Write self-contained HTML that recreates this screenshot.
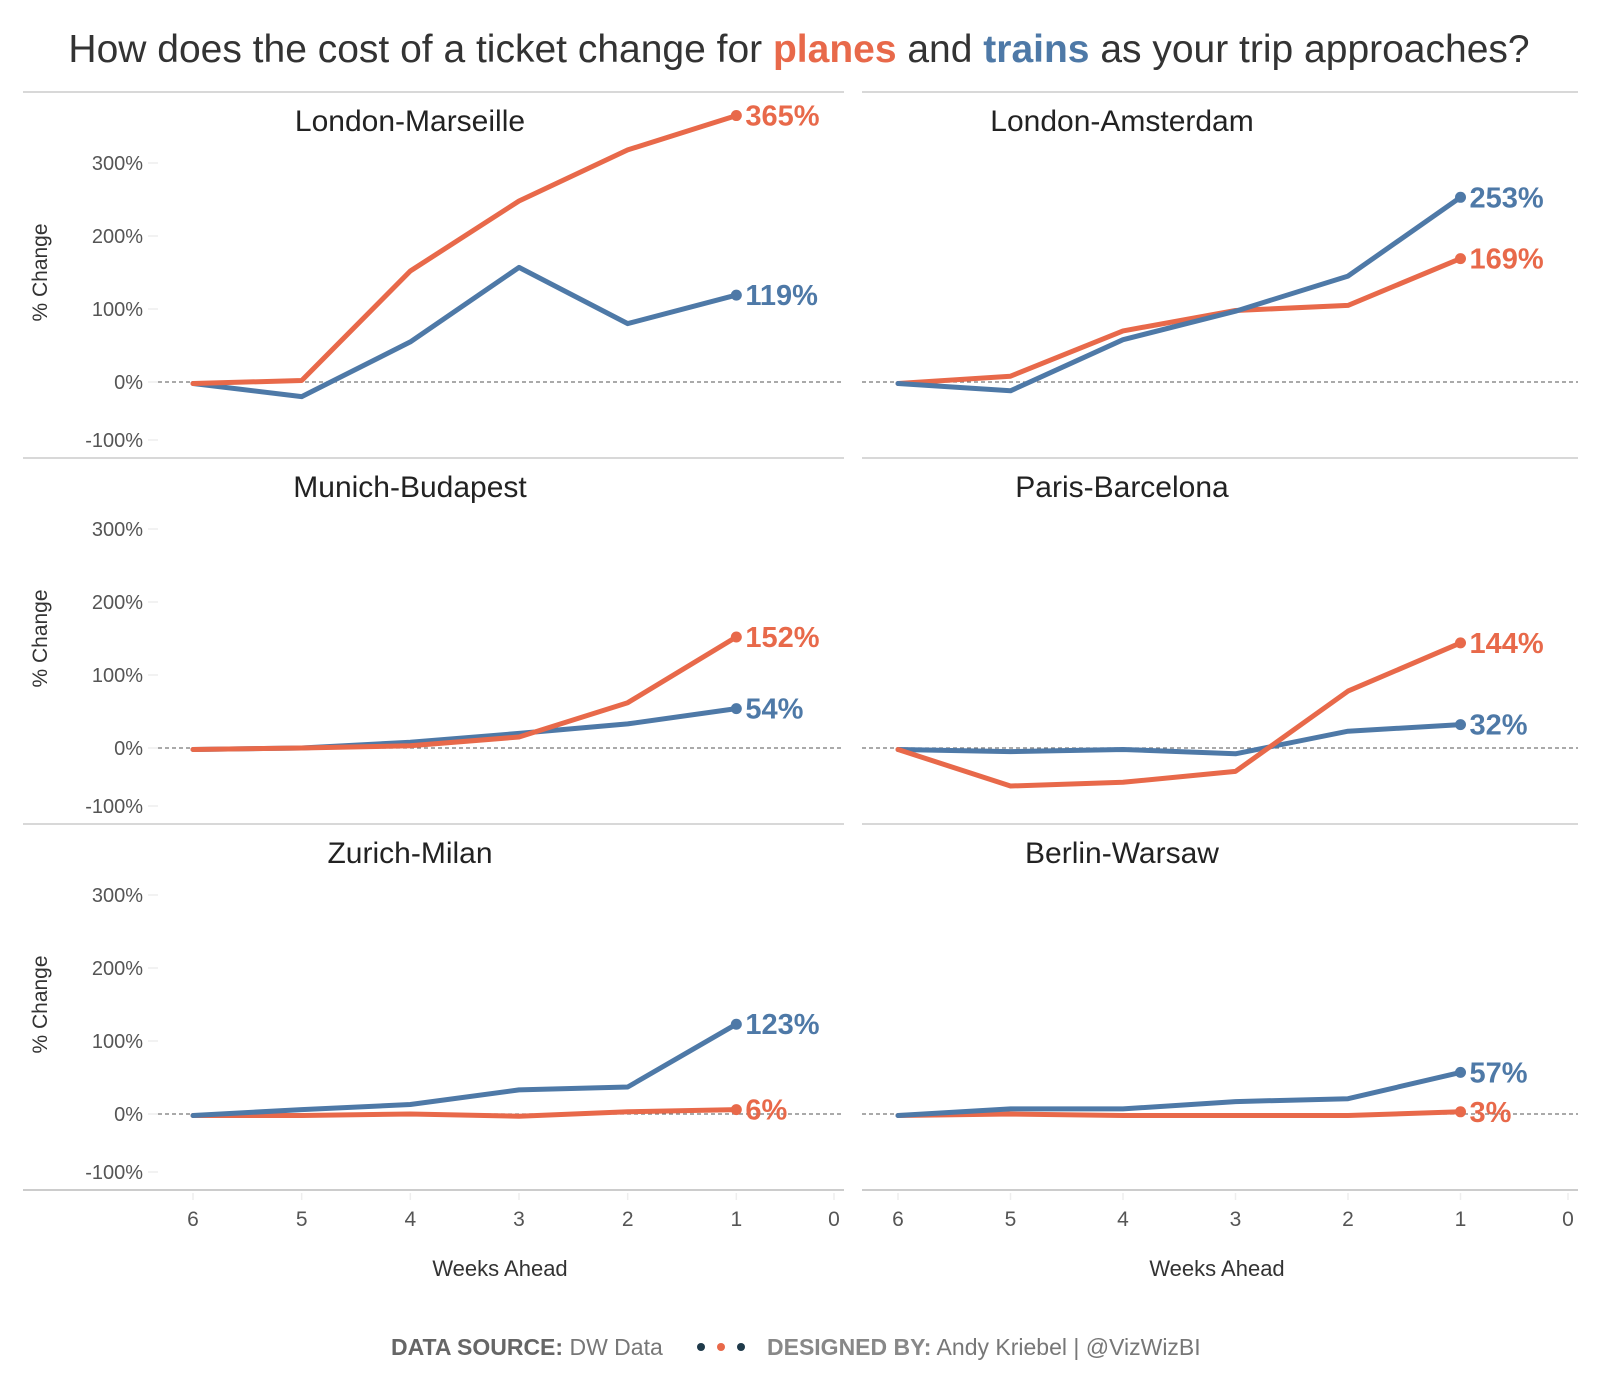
<!DOCTYPE html>
<html><head><meta charset="utf-8"><style>
html,body{margin:0;padding:0;background:#fff;}
svg{display:block;font-family:"Liberation Sans",sans-serif;}
</style></head><body>
<svg id="chart" width="1600" height="1400" viewBox="0 0 1600 1400">
<text x="799" y="62" text-anchor="middle" font-size="39" fill="#333">How does the cost of a ticket change for <tspan fill="#e8694a" font-weight="bold">planes</tspan> and <tspan fill="#4e79a7" font-weight="bold">trains</tspan> as your trip approaches?</text>
<g id="panels"></g>
<text x="500" y="1276" text-anchor="middle" font-size="22" fill="#333">Weeks Ahead</text>
<text x="1217" y="1276" text-anchor="middle" font-size="22" fill="#333">Weeks Ahead</text>
<g font-size="23" fill="#777">
<text x="391" y="1355"><tspan font-weight="bold" fill="#666">DATA SOURCE:</tspan> DW Data</text>
<circle cx="701" cy="1347" r="4" fill="#1f3a4a"/><circle cx="721" cy="1347" r="4" fill="#e8694a"/><circle cx="741" cy="1347" r="4" fill="#1f3a4a"/>
<text x="767" y="1355"><tspan font-weight="bold" fill="#888">DESIGNED BY:</tspan> Andy Kriebel | @VizWizBI</text>
</g>
</svg>
<script>
const routes = ["London-Marseille","London-Amsterdam","Munich-Budapest","Paris-Barcelona","Zurich-Milan","Berlin-Warsaw"];
const weeks = [6,5,4,3,2,1];
const planeVals = [[-2,2,152,248,318,365],[-2,8,70,98,105,169],[-2,0,3,15,62,152],[-2,-52,-47,-32,78,144],[-2,-2,0,-3,3,6],[-2,0,-2,-2,-2,3]];
const trainVals = [[-2,-20,55,157,80,119],[-2,-12,58,97,145,253],[-2,0,8,20,33,54],[-2,-5,-2,-8,23,32],[-2,6,13,33,37,123],[-2,7,7,17,21,57]];
const yTicks = [300,200,100,0,-100];
const xTicks = [6,5,4,3,2,1,0];
const NS="http://www.w3.org/2000/svg";
const PLANE="#e8694a", TRAIN="#4e79a7";
const g=document.getElementById('panels');
function mk(t,a,p){const e=document.createElementNS(NS,t);for(const k in a)e.setAttribute(k,a[k]);(p||g).appendChild(e);return e;}
const cols=[{x0:23,x1:844,w6:193,w0:845,tc:410},{x0:862,x1:1578,w6:898,w0:1573,tc:1122}];
function xs(c,w){return cols[c].w0-(cols[c].w0-cols[c].w6)*w/6;}
function ys(r,v){return 382+r*366-v*0.73;}
routes.forEach((name,i)=>{
  const r=Math.floor(i/2),c=i%2,C=cols[c];
  const pg=mk('g',{});
  
  
  const top=92+r*366;
  const tl=mk('line',{x1:C.x0,x2:C.x1,y1:top,y2:top,stroke:'#ccc','stroke-width':1.5},pg);
  
  if(r===2){const bl=mk('line',{x1:C.x0,x2:C.x1,y1:top+366,y2:top+366,stroke:'#ccc','stroke-width':2},pg);
    }
  const t=mk('text',{x:C.tc,y:top+39,'text-anchor':'middle','font-size':30,fill:'#222'},pg);
  t.textContent=name;
  
  const z=mk('line',{x1:c?C.x0:158,x2:C.x1,y1:ys(r,0),y2:ys(r,0),stroke:'#777','stroke-width':1.2,'stroke-dasharray':'4,3'},pg);
  
  if(c===0){
    yTicks.forEach(v=>{
      const yy=v===-100?ys(r,0)+58:ys(r,v);
      const tk=mk('line',{x1:148,x2:158,y1:yy,y2:yy,stroke:'#eee','stroke-width':1.5},pg);
      
      const lb=mk('text',{x:143,y:yy+7,'text-anchor':'end','font-size':20,fill:'#555'},pg);
      lb.textContent=v+'%';
      
    });
    const yt=mk('text',{transform:`translate(47,${ys(r,150)}) rotate(-90)`,'text-anchor':'middle','font-size':21,fill:'#333'},pg);
    yt.textContent='% Change';
    
  }
  if(r===2){
    xTicks.forEach(w=>{
      const xx=Math.min(xs(c,w),C.x1-10);
      const tk=mk('line',{x1:xx,x2:xx,y1:top+369,y2:top+376,stroke:'#eee','stroke-width':1.5},pg);
      
      const lb=mk('text',{x:xx,y:1226,'text-anchor':'middle','font-size':21,fill:'#555'},pg);
      lb.textContent=w;
      
    });
  }
  const series=[['train',trainVals[i],TRAIN],['plane',planeVals[i],PLANE]];
  if(i===1||i===4||i===5) series.reverse();
  series.forEach(([sn,vals,col])=>{
    const d=vals.map((v,k)=>(k?'L':'M')+xs(c,weeks[k]).toFixed(1)+','+ys(r,v).toFixed(1)).join('');
    const p=mk('path',{d:d,fill:'none',stroke:col,'stroke-width':5,'stroke-linejoin':'round','stroke-linecap':'round'},pg);
    
    const lv=vals[vals.length-1];
    const dot=mk('circle',{cx:xs(c,1),cy:ys(r,lv),r:5.5,fill:col},pg);
    
    const lb=mk('text',{x:xs(c,1)+9,y:ys(r,lv)+10,'font-size':29,'font-weight':'bold',fill:col},pg);
    lb.textContent=lv+'%';
    
  });
});
</script>
</body></html>
